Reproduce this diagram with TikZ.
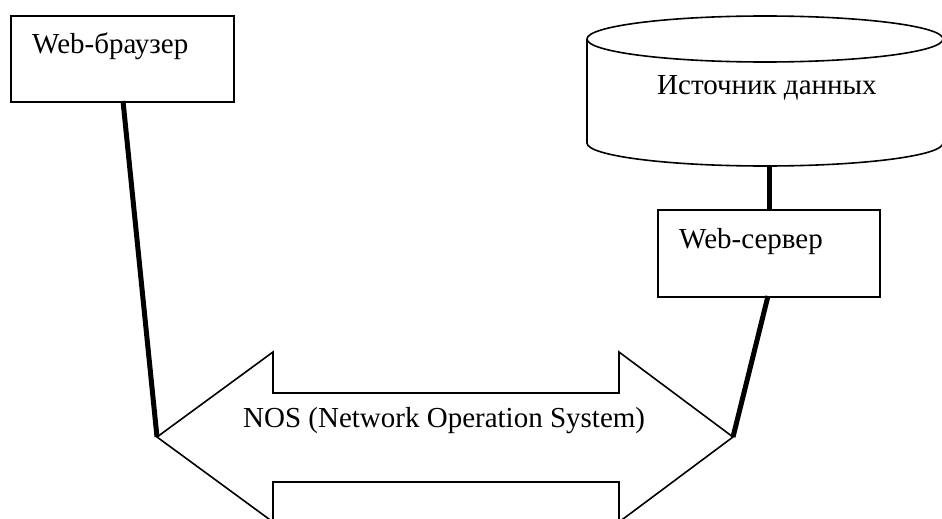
\documentclass[tikz,border=0pt]{standalone}
\usepackage{fontspec}
\setmainfont{Liberation Serif}
\begin{document}
\begin{tikzpicture}[x=1pt,y=-1pt,
  shape line/.style={line width=1.6pt, line join=miter},
  boxnode/.style={draw, line width=1.6pt, rectangle, inner sep=0pt, anchor=north west},
  lbl/.style={font=\fontsize{29}{32}\selectfont, inner sep=0pt, anchor=base west},
  link/.style={line width=5pt}]
\useasboundingbox (0,0) rectangle (942,519);
\clip (0,0) rectangle (942,519);
% Web browser box
\node[boxnode, minimum width=223pt, minimum height=86pt] (browser) at (10,15) {};
\node[lbl] (browserlabel) at (32,53) {Web-браузер};
% Data source cylinder
\draw[shape line, fill=white] (587,39) -- (587,143)
  arc[start angle=180, end angle=360, x radius=178pt, y radius=23pt] -- (943,39);
\draw[shape line] (765,39) ellipse [x radius=178pt, y radius=23pt];
\coordinate (dbbottom) at (769,166);
\node[lbl] (dblabel) at (657,94) {Источник данных};
% Web server box
\node[boxnode, minimum width=222pt, minimum height=87pt] (server) at (657,209) {};
\node[lbl] (serverlabel) at (679,248) {Web-сервер};
% Double arrow NOS
\coordinate (ltip) at (157,437);
\coordinate (rtip) at (733,437);
\draw[shape line] (ltip) -- (273,352) -- (273,393) -- (619,393) -- (619,352) -- (rtip)
  -- (619,522) -- (619,482) -- (273,482) -- (273,522) -- cycle;
\node[lbl] (nos) at (243,427) {NOS (Network Operation System)};
% Connectors
\coordinate (browserfoot) at (123,101);
\coordinate (servertop) at (769,209);
\coordinate (serverfoot) at (768,296);
\draw[link] (browserfoot) -- (ltip);
\draw[link] (dbbottom) -- (servertop);
\draw[link] (serverfoot) -- (rtip);
\end{tikzpicture}
\end{document}
